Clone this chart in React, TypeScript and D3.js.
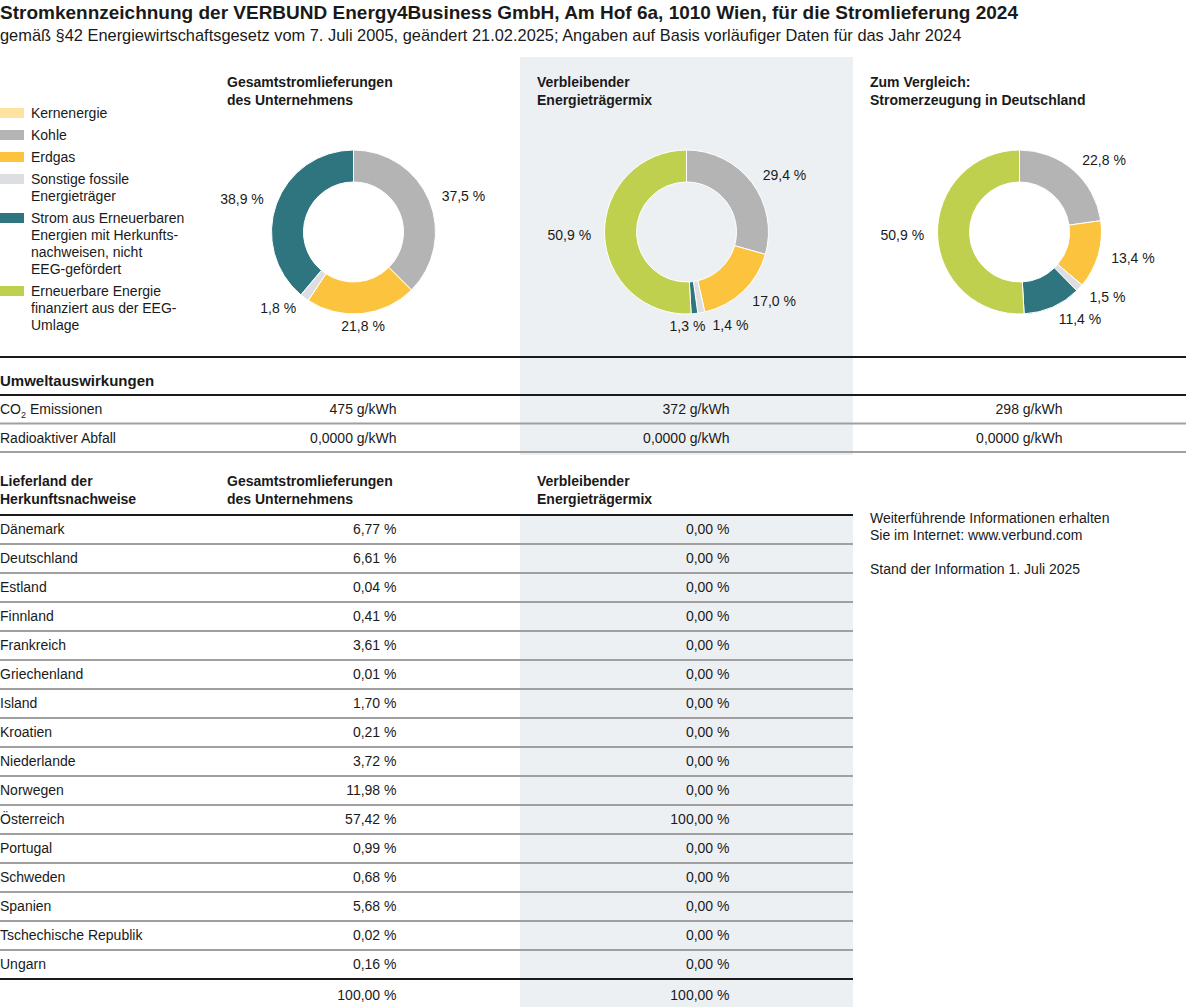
// @ts-nocheck
import * as d3 from "d3";
import React, { useEffect } from "react";

const energyLabels = [
  ["Kernenergie"],
  ["Kohle"],
  ["Erdgas"],
  ["Sonstige fossile", "Energieträger"],
  ["Strom aus Erneuerbaren", "Energien mit Herkunfts-", "nachweisen, nicht", "EEG-gefördert"],
  ["Erneuerbare Energie", "finanziert aus der EEG-", "Umlage"],
];
const energyColors = ["#fde2a0", "#b4b4b4", "#fcc43e", "#dcdee1", "#2f7580", "#bfd04e"];

const mixTitles = [
  ["Gesamtstromlieferungen", "des Unternehmens"],
  ["Verbleibender", "Energieträgermix"],
  ["Zum Vergleich:", "Stromerzeugung in Deutschland"],
];
const companyMix = [0, 37.5, 21.8, 1.8, 38.9, 0];
const residualMix = [0, 29.4, 17.0, 1.4, 1.3, 50.9];
const germanyMix = [0, 22.8, 13.4, 1.5, 11.4, 50.9];
const mixes = [companyMix, residualMix, germanyMix];

const impactLabels = ["CO2 Emissionen", "Radioaktiver Abfall"];
const co2Values = [475, 372, 298];
const wasteValues = [0, 0, 0];

const countryHeaders = [
  ["Lieferland der", "Herkunftsnachweise"],
  ["Gesamtstromlieferungen", "des Unternehmens"],
  ["Verbleibender", "Energieträgermix"],
];
const countries = [
  "Dänemark", "Deutschland", "Estland", "Finnland", "Frankreich", "Griechenland",
  "Island", "Kroatien", "Niederlande", "Norwegen", "Österreich", "Portugal",
  "Schweden", "Spanien", "Tschechische Republik", "Ungarn",
];
const countryCompany = [6.77, 6.61, 0.04, 0.41, 3.61, 0.01, 1.7, 0.21, 3.72, 11.98, 57.42, 0.99, 0.68, 5.68, 0.02, 0.16];
const countryResidual = [0, 0, 0, 0, 0, 0, 0, 0, 0, 0, 100, 0, 0, 0, 0, 0];
const countryTotals = [100, 100];

const infoLines = ["Weiterführende Informationen erhalten", "Sie im Internet: www.verbund.com", "", "Stand der Information 1. Juli 2025"];

const de = d3.formatLocale({ decimal: ",", thousands: ".", grouping: [3], currency: ["", " €"] });
const f1 = de.format(".1f");
const f2 = de.format(".2f");
const f4 = de.format(".4f");

const W = 1200;
const H = 1007;
const FONT = "'Liberation Sans', Arial, Helvetica, sans-serif";
const INK = "#1a1a1a";
const RULE = "#a0a0a0";
const PANEL = "#edf0f3";

const pie = d3.pie().sort(null).value((d) => d);
const arc = d3.arc().innerRadius(50).outerRadius(82);
const labelArc = d3.arc().innerRadius(95).outerRadius(95);

// place slice labels outside the ring, then push apart labels that collide
function sliceLabels(mix) {
  const labels = pie(mix)
    .map((a, i) => ({ a, i }))
    .filter((d) => d.a.value > 0)
    .map(({ a, i }) => {
      const [x, y] = labelArc.centroid(a);
      const s = Math.sin((a.startAngle + a.endAngle) / 2);
      const text = `${f1(a.value)} %`;
      const w = text.length * 7.4;
      const cxl = s > 0.15 ? x + w / 2 : s < -0.15 ? x - w / 2 : x;
      return { i, text, w, x: cxl, y };
    });
  for (let k = 0; k < labels.length; k++) {
    const p = labels[k];
    const q = labels[(k + 1) % labels.length];
    if (p === q || Math.abs(p.y - q.y) > 16) continue;
    const overlap = (p.w + q.w) / 2 + 6 - Math.abs(p.x - q.x);
    if (overlap > 0) {
      const dir = p.x < q.x ? -1 : 1;
      p.x += (dir * overlap) / 2;
      q.x -= (dir * overlap) / 2;
    }
  }
  return labels;
}

export default function App() {
  useEffect(() => {
    document.body.style.margin = "0";
  }, []);

  const col = d3.scaleBand().domain([0, 1, 2]).range([187, 1186]);
  const cx = (i) => col(i) + col.bandwidth() / 2;
  const valueX = (i) => cx(i) + 43;
  const titleX = (i) => (i === 0 ? 227 : col(i) + 17);
  const donutY = 232;

  // legend rows: 17px per line, 5px gap
  let ly = 113;
  const legendY = energyLabels.map((lines) => {
    const y = ly;
    ly += lines.length * 17 + 5;
    return y;
  });

  const impactRows = d3.scaleBand().domain(d3.range(impactLabels.length)).range([395, 452]);
  const impactValues = [co2Values.map((v) => `${v} g/kWh`), wasteValues.map((v) => `${f4(v)} g/kWh`)];

  const rows = d3.scaleBand().domain(d3.range(countries.length)).range([515, 979]);

  return (
    <svg width={W} height={H} style={{ display: "block", fontFamily: FONT }} fill={INK}>
      <rect x={col(1)} y={57} width={col.bandwidth()} height={398} fill={PANEL} />
      <rect x={col(1)} y={515} width={col.bandwidth()} height={H - 515} fill={PANEL} />

      <text x={0} y={19} fontSize={19} fontWeight="bold">
        Stromkennzeichnung der VERBUND Energy4Business GmbH, Am Hof 6a, 1010 Wien, für die Stromlieferung 2024
      </text>
      <text x={0} y={41} fontSize={16.4}>
        gemäß §42 Energiewirtschaftsgesetz vom 7. Juli 2005, geändert 21.02.2025; Angaben auf Basis vorläufiger Daten für das Jahr 2024
      </text>

      {energyLabels.map((lines, i) => (
        <g key={i}>
          <rect x={0} y={legendY[i] - 5} width={24} height={10} fill={energyColors[i]} />
          {lines.map((t, j) => (
            <text key={j} x={31} y={legendY[i] + j * 17} dy="0.35em" fontSize={14}>
              {t}
            </text>
          ))}
        </g>
      ))}

      {mixes.map((mix, m) => (
        <g key={m}>
          {mixTitles[m].map((t, j) => (
            <text key={j} x={titleX(m)} y={87 + j * 18} fontSize={14} fontWeight="bold">
              {t}
            </text>
          ))}
          <g transform={`translate(${cx(m)},${donutY})`}>
            {pie(mix).map((a, i) =>
              a.value > 0 ? (
                <path key={i} d={arc(a)} fill={energyColors[i]} stroke="#fff" strokeWidth={1} />
              ) : null
            )}
            {sliceLabels(mix).map((l) => (
              <text key={l.i} x={l.x} y={l.y} dy="0.35em" fontSize={14} textAnchor="middle">
                {l.text}
              </text>
            ))}
          </g>
        </g>
      ))}

      <line x1={0} x2={1186} y1={357} y2={357} stroke={INK} strokeWidth={2} />
      <text x={0} y={386} fontSize={15} fontWeight="bold">Umweltauswirkungen</text>
      <line x1={0} x2={1186} y1={395} y2={395} stroke={INK} strokeWidth={2} />
      {impactLabels.map((lab, r) => {
        const y = impactRows(r) + impactRows.bandwidth() / 2;
        const yb = impactRows(r) + impactRows.bandwidth();
        return (
          <g key={r}>
            <text x={0} y={y} dy="0.35em" fontSize={14}>
              {r === 0 ? (
                <>
                  CO<tspan fontSize={9} dy="4">2</tspan>
                  <tspan dy="-4"> Emissionen</tspan>
                </>
              ) : (
                lab
              )}
            </text>
            {impactValues[r].map((v, i) => (
              <text key={i} x={valueX(i)} y={y} dy="0.35em" fontSize={14} textAnchor="end">
                {v}
              </text>
            ))}
            <line x1={0} x2={1186} y1={yb} y2={yb} stroke={RULE} strokeWidth={2} />
          </g>
        );
      })}

      {countryHeaders.map((lines, i) =>
        lines.map((t, j) => (
          <text key={`${i}-${j}`} x={i === 0 ? 0 : titleX(i - 1)} y={486 + j * 18} fontSize={14} fontWeight="bold">
            {t}
          </text>
        ))
      )}
      <line x1={0} x2={col(2)} y1={515} y2={515} stroke={INK} strokeWidth={2} />
      {countries.map((c, r) => {
        const y = rows(r) + rows.bandwidth() / 2;
        const yb = rows(r) + rows.bandwidth();
        return (
          <g key={c}>
            <text x={0} y={y} dy="0.35em" fontSize={14}>{c}</text>
            <text x={valueX(0)} y={y} dy="0.35em" fontSize={14} textAnchor="end">{f2(countryCompany[r])} %</text>
            <text x={valueX(1)} y={y} dy="0.35em" fontSize={14} textAnchor="end">{f2(countryResidual[r])} %</text>
            {r < countries.length - 1 && (
              <line x1={0} x2={col(2)} y1={yb} y2={yb} stroke={RULE} strokeWidth={2} />
            )}
          </g>
        );
      })}
      <line x1={0} x2={col(2)} y1={979} y2={979} stroke={INK} strokeWidth={2} />
      {countryTotals.map((v, i) => (
        <text key={i} x={valueX(i)} y={995} dy="0.35em" fontSize={14} textAnchor="end">
          {f2(v)} %
        </text>
      ))}

      {infoLines.map((t, j) => (
        <text key={j} x={col(2) + 17} y={518 + j * 17} dy="0.35em" fontSize={14}>
          {t}
        </text>
      ))}
    </svg>
  );
}
